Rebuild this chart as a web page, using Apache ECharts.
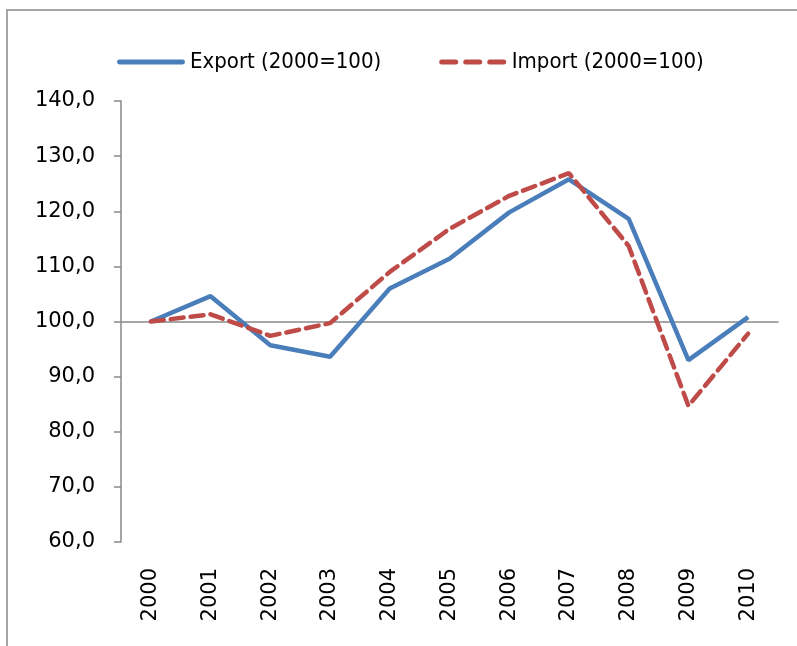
<!DOCTYPE html>
<html>
<head>
<meta charset="utf-8">
<script src="https://cdn.jsdelivr.net/npm/echarts@6/dist/echarts.min.js"></script>
<style>
  html, body { margin: 0; padding: 0; background: #fff; }
  #frame { position: absolute; left: 6px; top: 9px; width: 800px; height: 650px;
           border-left: 2px solid #a6a6a6; border-top: 2px solid #a6a6a6; box-sizing: border-box; }
  #chart { position: absolute; left: 0; top: 0; width: 797px; height: 646px; }
</style>
</head>
<body>
<div id="frame"></div>
<div id="chart"></div>
<script>
// years on the category axis
var years = ['2000', '2001', '2002', '2003', '2004', '2005', '2006', '2007', '2008', '2009', '2010'];
// index values, 2000 = 100
var exportVals = [100.0, 104.6, 95.7, 93.6, 106.0, 111.4, 119.8, 125.8, 118.6, 93.0, 100.8];
var importVals = [100.0, 101.3, 97.4, 99.7, 109.0, 116.8, 122.8, 126.9, 113.7, 84.7, 97.8];
var yMin = 60, yMax = 140, yStep = 10;

var axisGrey = '#898989';
var myChart = echarts.init(document.getElementById('chart'));

// legend keys: a solid bar and three dashes
var solidIcon = 'path://M2,0H66A2,2 0 0 1 66,5H2A2,2 0 0 1 2,0Z';
var dashIcon = 'path://M2,0H16A2,2 0 0 1 16,5H2A2,2 0 0 1 2,0Z M26,0H40A2,2 0 0 1 40,5H26A2,2 0 0 1 26,0Z M50,0H64A2,2 0 0 1 64,5H50A2,2 0 0 1 50,0Z';

var option = {
  animation: false,
  legend: {
    left: 112,
    top: 46,
    itemWidth: 68,
    itemHeight: 5,
    itemGap: 58,
    textStyle: { fontFamily: 'DejaVu Sans Condensed', fontSize: 22, color: '#000' },
    data: [
      { name: 'Export (2000=100)', icon: solidIcon },
      { name: 'Import (2000=100)', icon: dashIcon }
    ]
  },
  grid: { left: 121, right: 19, top: 101, bottom: 104 },
  xAxis: [{
    // labels at the bottom
    type: 'category',
    data: years,
    position: 'bottom',
    axisLine: { show: false },
    axisTick: { show: false },
    axisLabel: { rotate: 90, margin: 26, fontFamily: 'DejaVu Sans', fontSize: 21, color: '#000' }
  }, {
    // horizontal axis line crossing at 100
    type: 'category',
    data: years,
    position: 'bottom',
    offset: -220,
    axisLine: { lineStyle: { color: axisGrey, width: 1.5 } },
    axisTick: { length: 9, lineStyle: { color: axisGrey, width: 1.5 } },
    axisLabel: { show: false }
  }],
  yAxis: {
    type: 'value',
    min: yMin,
    max: yMax,
    interval: yStep,
    axisLine: { show: true, lineStyle: { color: axisGrey, width: 1.5 } },
    axisTick: { show: true, length: 7, lineStyle: { color: axisGrey, width: 1.5 } },
    splitLine: { show: false },
    axisLabel: {
      margin: 26,
      fontFamily: 'DejaVu Sans',
      fontSize: 21,
      color: '#000',
      formatter: function (v) { return v.toFixed(1).replace('.', ','); }
    }
  },
  series: [{
    name: 'Export (2000=100)',
    type: 'line',
    data: exportVals,
    symbol: 'none',
    color: '#4a7ebb',
    lineStyle: { width: 4.5, color: '#4a7ebb' }
  }, {
    name: 'Import (2000=100)',
    type: 'line',
    data: importVals,
    symbol: 'none',
    color: '#be4b48',
    lineStyle: { width: 4.5, color: '#be4b48', type: [13, 7], cap: 'round' }
  }]
};

myChart.setOption(option, true);
</script>
</body>
</html>
